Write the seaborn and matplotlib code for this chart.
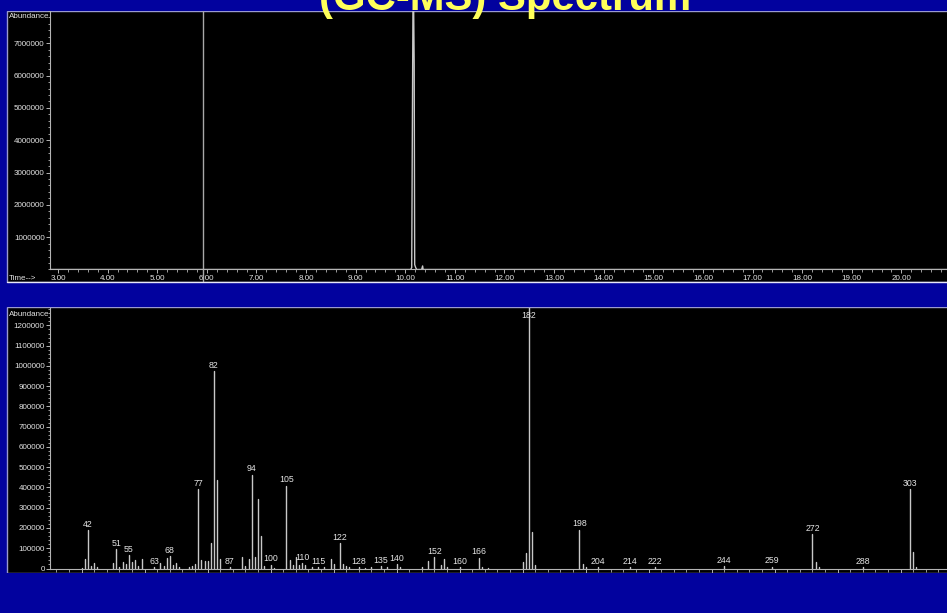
import numpy as np
import pandas as pd
import matplotlib
matplotlib.use("Agg")
import matplotlib.pyplot as plt
import seaborn as sns
from matplotlib.ticker import MultipleLocator, FixedLocator, FuncFormatter
from matplotlib.patches import Rectangle
from matplotlib.lines import Line2D
from matplotlib import font_manager as fm

# ---------------- data ----------------
title = "(GC-MS) Spectrum"

# total ion chromatogram (time in min, abundance)
chrom_time = [2.84, 10.11, 10.13, 10.14, 10.16, 10.18, 10.19, 10.21, 10.23,
              10.33, 10.35, 10.36, 20.92]
chrom_abund = [0, 0, 60000, 3400000, 9600000, 6330000, 150000, 60000, 0,
               0, 110000, 0, 0]
solvent_marker_time = 5.92
time_tick_values = list(range(3, 21))
chrom_y_ticks = [1000000, 2000000, 3000000, 4000000, 5000000, 6000000, 7000000]

# mass spectrum (m/z, abundance)
ms_mz = [40, 41, 42, 43, 44, 45,
         50, 51, 52, 53, 54, 55, 56, 57, 58, 59,
         63, 65, 66, 67, 68, 69, 70, 71,
         74, 75, 76, 77, 78, 79, 80, 81, 82, 83, 84,
         87, 91, 92, 93, 94, 95, 96, 97, 98, 100, 101,
         105, 106, 107, 108, 109, 110, 111, 113, 115, 117, 119, 120,
         122, 123, 124, 125, 128, 130, 132, 135, 137, 140, 141,
         148, 150, 152, 154, 155, 156, 160, 166, 167, 169,
         180, 181, 182, 183, 184,
         198, 199, 200, 204, 214, 222, 244, 259,
         272, 273, 274, 288, 303, 304, 305]
ms_abund = [3000, 47000, 190000, 13000, 25000, 6000,
            25000, 95000, 8000, 33000, 21000, 65000, 31000, 42000, 12000, 45000,
            6000, 25000, 13000, 50000, 60000, 16000, 27000, 6000,
            6000, 10000, 21000, 390000, 42000, 38000, 35000, 127000, 975000, 438000, 47000,
            6000, 57000, 12000, 48000, 463000, 58000, 342000, 160000, 14000, 18000, 4000,
            408000, 42000, 18000, 55000, 15000, 25000, 18000, 6000, 5000, 6000, 45000, 22000,
            124000, 20000, 13000, 7000, 5000, 4000, 5000, 10000, 6000, 20000, 6000,
            5000, 37000, 56000, 18000, 47000, 6000, 7000, 53000, 8000, 4000,
            32000, 75000, 1290000, 180000, 15000,
            192000, 21000, 9000, 7000, 6000, 6000, 12000, 9000,
            170000, 33000, 5000, 7000, 390000, 82000, 5000]
ms_labels = [42, 51, 55, 63, 68, 77, 82, 87, 94, 100, 105, 110, 115, 122, 128,
             135, 140, 152, 160, 166, 182, 198, 204, 214, 222, 244, 259, 272, 288, 303]
ms_y_ticks = [0, 100000, 200000, 300000, 400000, 500000, 600000, 700000,
              800000, 900000, 1000000, 1100000, 1200000]

# ---------------- style ----------------
W, H = 947, 613
BLUE = "#02029E"
LINE = "#c8c8c8"
AXC = "#b4b4b4"
TXT = "#e4e4e4"

sns.set_theme(style="dark")
names = {f.name for f in fm.fontManager.ttflist}
if "Liberation Sans Narrow" in names:
    small_font, tick_fs, lab_fs = "Liberation Sans Narrow", 6.7, 7.2
else:
    small_font, tick_fs, lab_fs = "Liberation Sans", 5.8, 6.3
plt.rcParams["font.family"] = [small_font, "DejaVu Sans"]

fig = plt.figure(figsize=(W / 100, H / 100), dpi=100, facecolor=BLUE)


def fx(px):
    return px / W


def fy(py):
    return 1 - py / H


def band(x0, y0, x1, y1, color, z, ec="none"):
    r = Rectangle((fx(x0), fy(y1)), (x1 - x0) / W, (y1 - y0) / H,
                  transform=fig.transFigure, facecolor=color, edgecolor=ec,
                  lw=1, zorder=z)
    fig.patches.append(r)


# black panels
band(7, 11, 948, 281.5, "black", -5, ec="#9a9ad0")
band(7, 307, 948, 572.5, "black", -5, ec="#9a9ad0")

# ---------------- chromatogram ----------------
ax1 = fig.add_axes([fx(50), fy(269.5), (W - 50) / W, (269.5 - 11) / H])
ax1.set_facecolor("none")
sns.lineplot(x=chrom_time, y=chrom_abund, ax=ax1, estimator=None, sort=False,
             color=LINE, lw=1.0)
ax1.axvline(solvent_marker_time, ymin=-0.045, ymax=1, color="#a8a8a8",
            lw=1.0, clip_on=False)
ax1.set_xlim(2.839, 20.92)
ax1.set_ylim(0, 8.0e6)
ax1.xaxis.set_major_locator(FixedLocator(time_tick_values))
ax1.xaxis.set_major_formatter(FuncFormatter(lambda v, p: f"{v:.2f}"))
ax1.xaxis.set_minor_locator(MultipleLocator(0.2))
ax1.yaxis.set_major_locator(FixedLocator(chrom_y_ticks))
ax1.yaxis.set_major_formatter(FuncFormatter(lambda v, p: f"{int(round(v))}"))
ax1.yaxis.set_minor_locator(MultipleLocator(200000))

# ---------------- mass spectrum ----------------
ax2 = fig.add_axes([fx(50), fy(568.5), (W - 50) / W, (568.5 - 308) / H])
ax2.set_facecolor("none")
stick_df = pd.DataFrame({
    "mz": np.repeat(ms_mz, 2),
    "abundance": np.ravel(np.column_stack([np.zeros(len(ms_abund)), ms_abund])),
    "peak": np.repeat(np.arange(len(ms_mz)), 2),
})
sns.lineplot(data=stick_df, x="mz", y="abundance", units="peak", estimator=None,
             sort=False, color=LINE, lw=1.0, ax=ax2)
ax2.set_xlim(29.94, 314.7)
ax2.set_ylim(0, 1.286e6)
ax2.xaxis.set_major_locator(MultipleLocator(20))
ax2.xaxis.set_minor_locator(MultipleLocator(4))
ax2.yaxis.set_major_locator(FixedLocator(ms_y_ticks))
ax2.yaxis.set_major_formatter(FuncFormatter(lambda v, p: f"{int(round(v))}"))
ax2.yaxis.set_minor_locator(MultipleLocator(20000))
ax2.tick_params(labelbottom=False)

ab_of = dict(zip(ms_mz, ms_abund))
for m in ms_labels:
    yv = min(ab_of[m] + 7000, 1.225e6)
    ax2.text(m, yv, str(m), ha="center", va="bottom", fontsize=lab_fs,
             color=TXT, clip_on=False)

for ax in (ax1, ax2):
    ax.grid(False)
    ax.set_xlabel("")
    ax.set_ylabel("")
    for s in ("top", "right"):
        ax.spines[s].set_visible(False)
    for s in ("left", "bottom"):
        ax.spines[s].set_visible(True)
        ax.spines[s].set_color(AXC)
        ax.spines[s].set_linewidth(0.8)
    ax.tick_params(which="major", direction="out", length=3.0, width=0.7,
                   colors=AXC, labelcolor=TXT, labelsize=tick_fs, pad=0.8,
                   bottom=True, left=True)
    ax.tick_params(which="minor", direction="out", length=1.8, width=0.6,
                   colors=AXC, bottom=True, left=True)

# axis captions
fig.text(fx(49), fy(16), "Abundance", ha="right", va="center",
         fontsize=tick_fs, color=TXT)
fig.text(fx(49), fy(314), "Abundance", ha="right", va="center",
         fontsize=tick_fs, color=TXT)
fig.text(fx(9), fy(275.5), "Time-->", ha="left", va="top",
         fontsize=tick_fs, color=TXT)

# blue bands covering overflow
band(0, 282.5, 948, 306.5, BLUE, 10)
band(0, 573, 948, 614, BLUE, 10)
band(0, -1, 948, 10.5, BLUE, 10)
fig.add_artist(Line2D([fx(7), 1], [fy(281.8), fy(281.8)], transform=fig.transFigure,
                      color="#e8e8f8", lw=1.0, zorder=11))

# title
fig.text(fx(505.5), fy(10), title, ha="center", va="baseline", fontsize=30.2,
         fontweight="bold", family=["Liberation Sans", "DejaVu Sans"],
         color="#FFFF5A", zorder=20)

fig.savefig("out.png", dpi=100, facecolor=BLUE)
